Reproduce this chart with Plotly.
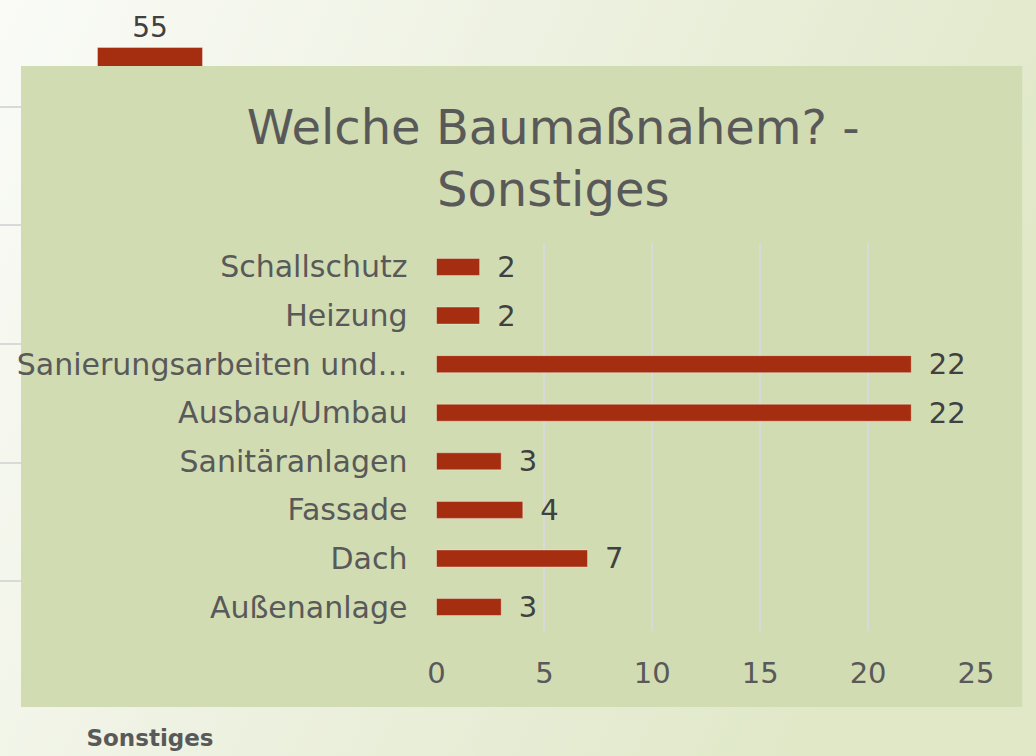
import base64

import plotly.graph_objects as go

# background chart (mostly hidden behind the panel)
BG_CATEGORIES = ["Sonstiges"]
BG_VALUES = [55]

# main chart, listed bottom to top
CATEGORIES = [
    "Außenanlage", "Dach", "Fassade", "Sanitäranlagen",
    "Ausbau/Umbau", "Sanierungsarbeiten und…", "Heizung", "Schallschutz",
]
VALUES = [3, 7, 4, 3, 22, 22, 2, 2]
X_TICKS = [0, 5, 10, 15, 20, 25]

FONT = "DejaVu Sans"
BAR = "#A52E10"
GRID = "#D9D9D9"
PANEL = "#D1DCB2"


def svg_uri(body):
    svg = ("<svg xmlns='http://www.w3.org/2000/svg' viewBox='0 0 100 100' "
           "preserveAspectRatio='none' width='100' height='100'>" + body + "</svg>")
    return "data:image/svg+xml;base64," + base64.b64encode(svg.encode()).decode()


gradient = svg_uri(
    "<defs><linearGradient id='g' x1='0' y1='0' x2='1' y2='0.35'>"
    "<stop offset='0' stop-color='#FAFBF7'/><stop offset='0.5' stop-color='#EDF1E0'/>"
    "<stop offset='1' stop-color='#E0E8C8'/></linearGradient></defs>"
    "<rect width='100' height='100' fill='url(#g)'/>"
)
panel = svg_uri(f"<rect width='100' height='100' fill='{PANEL}'/>")

fig = go.Figure()

fig.add_trace(go.Bar(
    x=BG_CATEGORIES, y=BG_VALUES, width=0.35,
    marker=dict(color=BAR, line=dict(width=1, color="rgba(255,255,255,0.35)")),
    text=BG_VALUES, textposition="outside", cliponaxis=False, constraintext="none",
    textfont=dict(size=28, color="#404040", family=FONT),
    xaxis="x", yaxis="y", showlegend=False,
))

fig.add_trace(go.Bar(
    x=VALUES, y=CATEGORIES, orientation="h",
    marker=dict(color=BAR, line=dict(width=1, color="rgba(255,255,255,0.35)")),
    texttemplate="\u2002%{x}", textposition="outside", cliponaxis=False,
    constraintext="none",
    textfont=dict(size=29, color="#404040", family=FONT),
    xaxis="x2", yaxis="y2", showlegend=False,
))

fig.update_layout(
    width=1036, height=756, autosize=False,
    margin=dict(l=0, r=0, t=0, b=56, autoexpand=False),
    paper_bgcolor="#ECF0DF",
    plot_bgcolor="rgba(0,0,0,0)",
    font=dict(family=FONT, color="#595959"),
    bargap=0.65,
    title=dict(
        text="Welche Baumaßnahem? -<br>Sonstiges",
        x=0.534, xref="container", xanchor="center",
        y=0.810, yref="container", yanchor="middle",
        font=dict(size=48, color="#595959", family=FONT),
    ),
    xaxis=dict(
        domain=[0, 0.97], range=[-0.5, 2.85], type="category",
        showgrid=False, showline=False, zeroline=False, automargin=False,
        ticks="", ticklabelstandoff=22,
        tickfont=dict(size=23, color="#595959", weight="bold"),
    ),
    yaxis=dict(
        domain=[0, 1], range=[0, 59], dtick=10, automargin=False,
        showgrid=True, gridcolor=GRID, gridwidth=1.5,
        zeroline=False, showline=False, showticklabels=False,
    ),
    xaxis2=dict(
        domain=[0.4213, 0.9421], range=[0, 25], tickvals=X_TICKS, automargin=False,
        anchor="y2", showgrid=True, gridcolor=GRID, gridwidth=2,
        zeroline=False, showline=False, ticks="", ticklabelstandoff=22,
        tickfont=dict(size=29, color="#595959"),
    ),
    yaxis2=dict(
        domain=[0.0981, 0.6533], anchor="x2", type="category", automargin=False,
        showgrid=False, zeroline=False, showline=False, ticks="",
        ticklabelstandoff=28,
        tickfont=dict(size=30, color="#595959"),
    ),
    images=[
        dict(source=gradient, xref="paper", yref="paper", x=0, y=1,
             sizex=1, sizey=756 / 700, xanchor="left", yanchor="top",
             sizing="stretch", layer="below"),
        dict(source=panel, xref="x2 domain", yref="y2 domain", x=-0.770, y=1.4547,
             sizex=1.856, sizey=1.6495, xanchor="left", yanchor="top",
             sizing="stretch", layer="below"),
    ],
)

fig.write_html(
    "out.html",
    config={"responsive": False, "displayModeBar": False},
    post_script=(
        "document.body.style.margin='0';document.body.style.overflow='hidden';"
        "var gd=document.getElementById('{plot_id}');"
        "gd.style.width='1036px';gd.style.height='756px';"
        "Plotly.relayout(gd,{width:1036,height:756});"
    ),
)
